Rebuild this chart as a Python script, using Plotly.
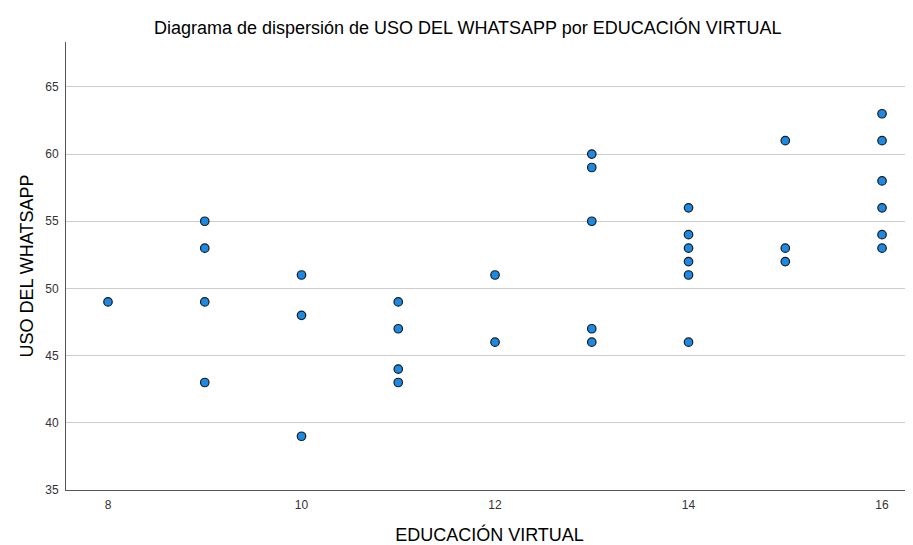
import plotly.graph_objects as go

educacion_virtual = [8,
                     9, 9, 9, 9,
                     10, 10, 10,
                     11, 11, 11, 11,
                     12, 12,
                     13, 13, 13, 13, 13,
                     14, 14, 14, 14, 14, 14,
                     15, 15, 15,
                     16, 16, 16, 16, 16, 16]
uso_whatsapp = [49,
                55, 53, 49, 43,
                51, 48, 39,
                49, 47, 44, 43,
                51, 46,
                60, 59, 55, 47, 46,
                56, 54, 53, 52, 51, 46,
                61, 53, 52,
                63, 61, 58, 56, 54, 53]
x_ticks = [8, 10, 12, 14, 16]
y_ticks = [35, 40, 45, 50, 55, 60, 65]

FONT = "Liberation Sans, Arial, sans-serif"

fig = go.Figure(go.Scatter(
    x=educacion_virtual, y=uso_whatsapp, mode="markers",
    marker=dict(size=8.5, color="#1a8ae6", line=dict(color="#1a1a1a", width=1.2)),
    hoverinfo="x+y", showlegend=False,
))

fig.update_layout(
    width=905, height=537,
    margin=dict(l=58, r=0, t=34, b=55),
    paper_bgcolor="white", plot_bgcolor="white",
    font=dict(family=FONT, color="#222222"),
    title=dict(text="Diagrama de dispersión de USO DEL WHATSAPP por EDUCACIÓN VIRTUAL",
               x=0.508, xanchor="center", y=0.963, yanchor="middle",
               font=dict(size=18, family=FONT, color="#000000")),
)
fig.update_xaxes(
    range=[7.566, 16.32], tickvals=x_ticks, showgrid=False, zeroline=False,
    showline=True, linecolor="#555555", linewidth=1, ticks="",
    ticklabelstandoff=4, automargin=False,
    tickfont=dict(size=12, color="#333333"),
    title=dict(text="EDUCACIÓN VIRTUAL", font=dict(size=18, color="#000000"), standoff=21),
)
fig.update_yaxes(
    range=[35, 68.34], tickvals=y_ticks, showgrid=True, gridcolor="#cccccc", gridwidth=1.3,
    zeroline=False, showline=True, linecolor="#555555", linewidth=1, ticks="",
    ticklabelstandoff=4, automargin=False,
    tickfont=dict(size=12, color="#333333"),
    title=dict(text="USO DEL WHATSAPP", font=dict(size=18, color="#000000"), standoff=6),
)

fig.write_html("out.html")
